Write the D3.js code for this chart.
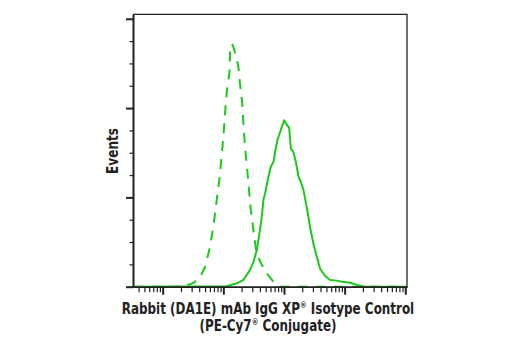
<!DOCTYPE html>
<html>
<head>
<meta charset="utf-8">
<script src="https://cdn.jsdelivr.net/npm/d3@7"></script>
<style>
  html, body { margin: 0; padding: 0; background: #fff; }
  svg { display: block; }
  .lbl { font-family: "Liberation Sans Narrow", "DejaVu Sans Condensed", "Arial Narrow", sans-serif; font-weight: bold; fill: #222; }
</style>
</head>
<body>
<svg id="chart" width="520" height="350"></svg>
<script>
// Histogram of fluorescence intensity (log scale) vs. event count.
// Dashed trace
const controlIntensity = [3.3, 21.6, 32.0, 41.3, 49.9, 58.7, 68.4, 77.8, 85.9, 94.2, 100, 106.7, 113.9, 125.7, 129.1, 137.7,
  144.8, 162.3, 177.0, 184.0, 203.8, 214.3, 228.6, 243.8, 259.0, 283.7, 313.3, 346.7, 378.4, 430.5, 520.8, 669.9, 863, 106700];
const controlEvents = [0, 0, 2.1, 5.2, 11.0, 20.5, 33.4, 48.5, 59.7, 73.7, 83.8, 97.1, 109.0, 119.5, 131.4, 135.9,
  134.8, 128.8, 123.0, 116.7, 103.6, 91.5, 77.5, 68.1, 57.9, 42.9, 31.7, 20.5, 16.6, 12.2, 7.5, 2.8, 0, 0];

// Solid trace
const stainedIntensity = [3.3, 114, 166.6, 214.3, 243.8, 276.2, 313.3, 356.5, 393.6, 430.5, 458.1, 488.7, 553.4, 606.7, 669.9,
  714.5, 779.8, 887.2, 1005, 1114, 1216, 1297, 1432, 1587, 1733, 1897, 2096, 2384, 2704, 3065, 3487, 3954, 4779,
  5777, 7452, 9016, 12360, 15960, 20510, 26420, 106700];
const stainedEvents = [0, 0.3, 1.9, 3.8, 6.6, 9.4, 13.8, 20.5, 29.9, 39.2, 48.5, 52.3, 61.6, 67.2, 69.8,
  75.6, 82.1, 87.7, 93.2, 90.5, 89.1, 77.5, 75.1, 69.1, 61.6, 58.6, 54.1, 44.1, 32.9, 23.9, 16.6, 9.9, 6.0,
  3.8, 3.4, 2.8, 2.2, 1.0, 0.1, 0, 0];

const xMajorTicks = [10, 100, 1000, 10000, 100000];
const yMajorTicks = [0, 50, 100, 150];

const xLabelLine1 = ["Rabbit (DA1E) mAb IgG XP", "®", " Isotype Control"];
const xLabelLine2 = ["(PE-Cy7", "®", " Conjugate)"];
const yLabel = "Events";

const plot = { left: 133, right: 407, top: 14.3, bottom: 286.7 };
const green = "#1cc81c";
const ink = "#222";

const svg = d3.select("#chart");

const x = d3.scaleLog().domain([3.24, 106700]).range([plot.left, plot.right]);
const y = d3.scaleLinear().domain([0, 152.5]).range([plot.bottom, plot.top]);

// minor ticks: 2..9 within each decade inside the domain
const xMinorTicks = [];
for (let e = 0; e <= 5; e++) {
  for (let k = 2; k <= 9; k++) {
    const v = k * Math.pow(10, e);
    if (v >= x.domain()[0] && v <= x.domain()[1]) xMinorTicks.push(v);
  }
}
const yMinorTicks = d3.range(0, 152.5, 12.5).filter(v => !yMajorTicks.includes(v));

// frame (top and right)
svg.append("path")
  .attr("d", `M${plot.left},${plot.top}H${plot.right}V${plot.bottom}`)
  .attr("fill", "none").attr("stroke", ink).attr("stroke-width", 1.3);

// curves
const line = (xs, ys) => d3.line()
  .x((d, i) => x(xs[i]))
  .y((d, i) => y(ys[i]))
  .curve(d3.curveLinear)(xs);

svg.append("path")
  .attr("d", line(controlIntensity, controlEvents))
  .attr("fill", "none").attr("stroke", green).attr("stroke-width", 2)
  .attr("stroke-dasharray", "10,8").attr("stroke-linejoin", "round");

svg.append("path")
  .attr("d", line(stainedIntensity, stainedEvents))
  .attr("fill", "none").attr("stroke", green).attr("stroke-width", 2)
  .attr("stroke-linejoin", "round");

// axes
function styleAxis(g, width) {
  g.selectAll("text").remove();
  g.selectAll("line").attr("stroke", ink).attr("stroke-width", width);
  g.select(".domain").attr("stroke", ink).attr("stroke-width", 1.6);
}

svg.append("g").attr("transform", `translate(0,${plot.bottom})`)
  .call(d3.axisBottom(x).tickValues(xMinorTicks).tickSize(5.5).tickSizeOuter(0).tickFormat(""))
  .call(g => styleAxis(g, 1.2));
svg.append("g").attr("transform", `translate(0,${plot.bottom})`)
  .call(d3.axisBottom(x).tickValues(xMajorTicks).tickSize(8).tickSizeOuter(0).tickFormat(""))
  .call(g => styleAxis(g, 2));

svg.append("g").attr("transform", `translate(${plot.left},0)`)
  .call(d3.axisLeft(y).tickValues(yMinorTicks).tickSize(3.5).tickSizeOuter(0).tickFormat(""))
  .call(g => styleAxis(g, 1.2));
svg.append("g").attr("transform", `translate(${plot.left},0)`)
  .call(d3.axisLeft(y).tickValues(yMajorTicks).tickSize(7).tickSizeOuter(0).tickFormat(""))
  .call(g => styleAxis(g, 2));

// labels (condensed horizontally)
svg.append("text").attr("class", "lbl")
  .attr("transform", "translate(118,151) rotate(-90) scale(0.84,1)")
  .attr("text-anchor", "middle").attr("font-size", 16)
  .text(yLabel);

function superLine(parts, yPos) {
  const t = svg.append("text").attr("class", "lbl")
    .attr("transform", `translate(268,${yPos}) scale(0.83,1)`)
    .attr("text-anchor", "middle").attr("font-size", 16);
  parts.forEach((p, i) => {
    const s = t.append("tspan").text(p);
    if (i === 1) s.attr("font-size", 9).attr("dy", -5.5);
    if (i === 2) s.attr("dy", 5.5);
  });
}
superLine(xLabelLine1, 313.5);
superLine(xLabelLine2, 330.5);
</script>
</body>
</html>
